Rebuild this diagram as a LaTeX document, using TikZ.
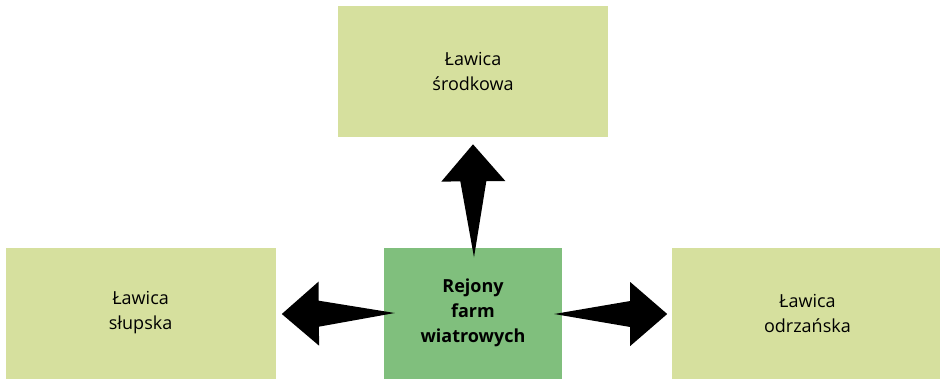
\documentclass[tikz,border=0pt]{standalone}
\usepackage{fontspec}
\setmainfont{Open Sans}
\usepackage{tikz}
\usetikzlibrary{positioning, calc}
\definecolor{lawica}{RGB}{214,224,158}
\definecolor{rejon}{RGB}{128,191,125}

% gruba strzalka: ogon (#1) -> grot (#2)
\newcommand{\fatarrow}[2]{%
    \path (#1) coordinate (ta) (#2) coordinate (hd);
    \path ($(hd)!37pt!(ta)$) coordinate (hb);
    \fill ($(ta)$) -- ($(hb)!13pt!90:(ta)$) -- ($(hb)!32pt!90:(ta)$) -- (hd)
        -- ($(hb)!32pt!-90:(ta)$) -- ($(hb)!13pt!-90:(ta)$) -- cycle;
}

\begin{document}
\begin{tikzpicture}[
    x=1pt, y=-1pt,
    node distance=110pt and 110pt,
    area/.style={rectangle, fill=lawica, minimum width=270pt, minimum height=131pt, align=center, font=\fontsize{18}{25}\selectfont},
    farm/.style={rectangle, fill=rejon, minimum width=178pt, minimum height=131pt, align=center, font=\fontsize{18}{25}\selectfont\bfseries}
]
    \useasboundingbox (0,0) rectangle (940,378);

    % blok srodkowy i trzy lawice wokol
    \node [farm] (mid) at (473,313) {Rejony\\farm\\wiatrowych};
    \node [area, above=of mid] (top) {Ławica\\środkowa};
    \node [area, left=108pt of mid] (left) {Ławica\\słupska};
    \node [area, right=of mid] (right) {Ławica\\odrzańska};

    % strzalki od rejonu farm
    \fatarrow{$(mid.north)+(1,10)$}{$(top.south)+(0,7)$}
    \fatarrow{$(mid.west)+(11,0)$}{$(left.east)+(6,1)$}
    \fatarrow{$(mid.east)+(-8,1)$}{$(right.west)+(-5,1)$}

\end{tikzpicture}
\end{document}
